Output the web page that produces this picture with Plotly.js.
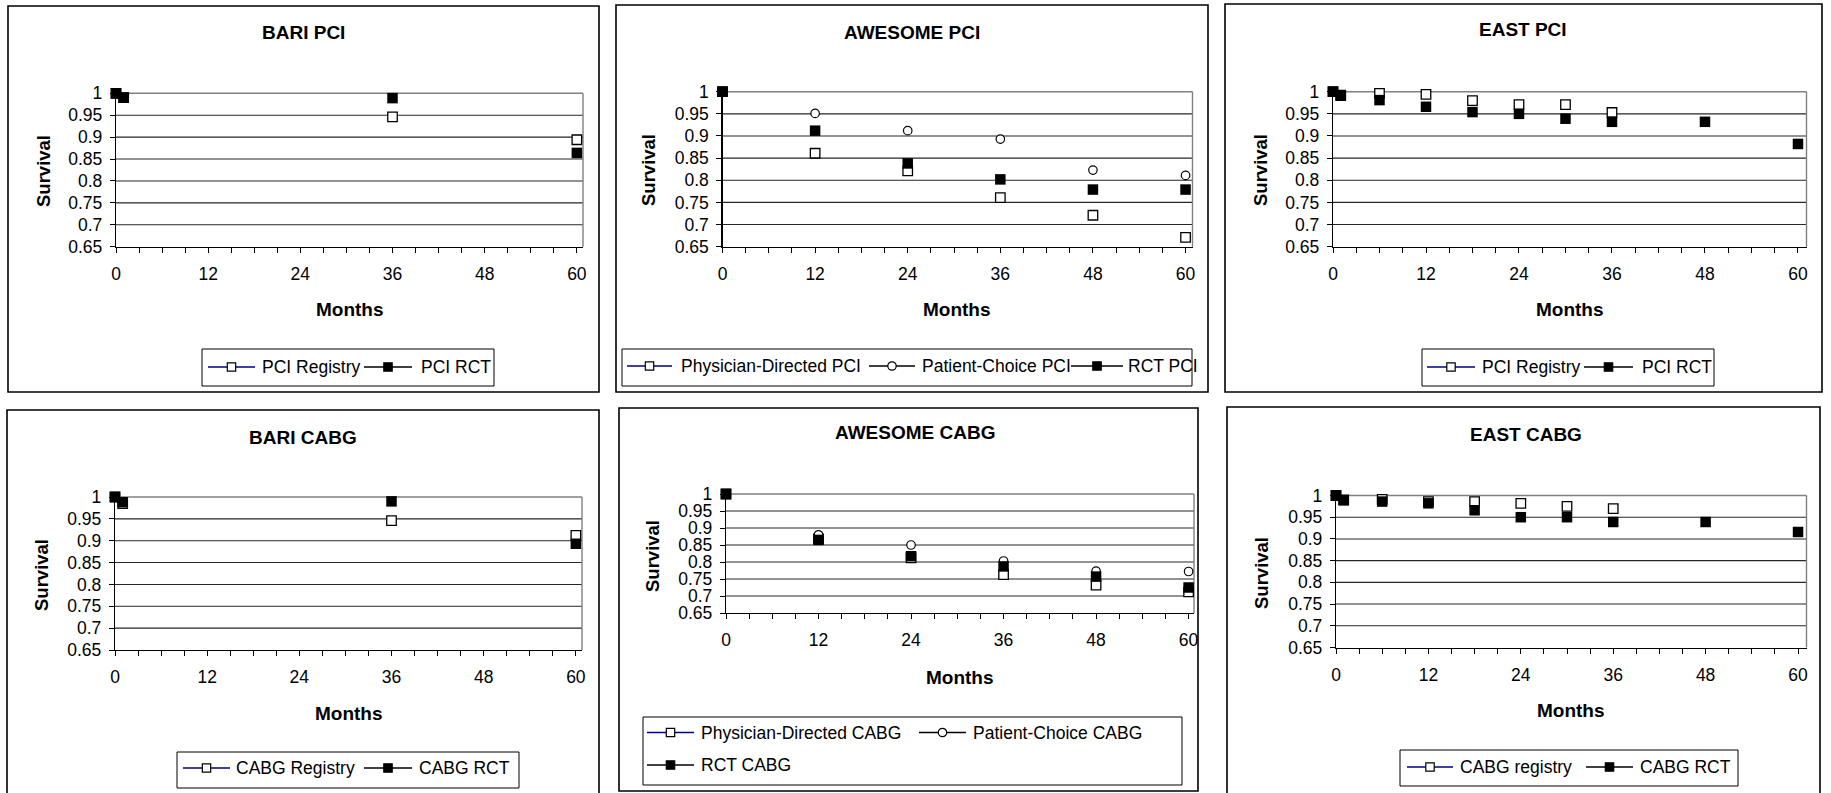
<!DOCTYPE html>
<html>
<head>
<meta charset="utf-8">
<script src="https://cdn.plot.ly/plotly-3.0.1.min.js"></script>
<style>
  html, body { margin: 0; padding: 0; background: #ffffff; }
  #chart { width: 1831px; height: 793px; }
</style>
</head>
<body>
<div id="chart"></div>
<script>
// ---- Survival (fraction alive) by months of follow-up ----
const bariMonths = [0, 1, 36, 60];
const bariPciRegistry = [1.0, 0.99, 0.946, 0.894];
const bariPciRct = [1.0, 0.99, 0.989, 0.864];
const bariCabgRegistry = [1.0, 0.985, 0.946, 0.912];
const bariCabgRct = [1.0, 0.988, 0.990, 0.893];

const awesomeMonths = [0, 12, 24, 36, 48, 60];
const awesomePciPhysician = [1.0, 0.861, 0.821, 0.761, 0.721, 0.671];
const awesomePciPatient = [1.0, 0.951, 0.912, 0.893, 0.823, 0.811];
const awesomePciRct = [1.0, 0.912, 0.838, 0.802, 0.779, 0.779];
const awesomeCabgPhysician = [1.0, 0.868, 0.812, 0.763, 0.732, 0.712];
const awesomeCabgPatient = [1.0, 0.880, 0.850, 0.803, 0.773, 0.772];
const awesomeCabgRct = [1.0, 0.865, 0.817, 0.787, 0.757, 0.725];

const eastRegistryMonths = [0, 1, 6, 12, 18, 24, 30, 36];
const eastRctMonths = [0, 1, 6, 12, 18, 24, 30, 36, 48, 60];
const eastPciRegistry = [1.0, 0.992, 0.996, 0.994, 0.980, 0.971, 0.971, 0.953];
const eastPciRct = [1.0, 0.991, 0.981, 0.966, 0.954, 0.950, 0.939, 0.932, 0.932, 0.882];
const eastCabgRegistry = [1.0, 0.990, 0.991, 0.986, 0.986, 0.982, 0.975, 0.970];
const eastCabgRct = [1.0, 0.989, 0.986, 0.982, 0.966, 0.950, 0.950, 0.939, 0.939, 0.916];

// ---- Axis ticks ----
const monthTicks = [0, 12, 24, 36, 48, 60];
const survivalTicks = [0.65, 0.7, 0.75, 0.8, 0.85, 0.9, 0.95, 1];
const survivalTickText = ['0.65', '0.7', '0.75', '0.8', '0.85', '0.9', '0.95', '1'];

// ---- Page geometry helpers (pixel -> paper fraction) ----
const W = 1831, H = 793;
const px = v => v / W;
const py = v => 1 - v / H;

const FONT = '"Liberation Sans", Arial, Helvetica, sans-serif';
const NAVY = '#000080';

const MARKERS = {
  openSquare:   { symbol: 'square', size: 9.5, color: '#ffffff', line: { color: '#000000', width: 1.3 } },
  filledSquare: { symbol: 'square', size: 10.5, color: '#000000', line: { color: '#000000', width: 0 } },
  openCircle:   { symbol: 'circle', size: 8.5, color: '#ffffff', line: { color: '#000000', width: 1.2 } }
};

// Each panel: frame, plot area, label anchors and its series
const panels = [
  {
    title: 'BARI PCI', box: [8, 6, 599, 392], plot: [116, 93.3, 583, 246.7], xmax: 60.8,
    titleAt: [303, 33], survAt: [44, 171], monthsY: 310,
    legendBox: [202, 349, 494, 386],
    series: [
      { name: 'PCI Registry', x: bariMonths, y: bariPciRegistry, style: 'openSquare', lineColor: NAVY, key: [208, 255, 261, 367] },
      { name: 'PCI RCT', x: bariMonths, y: bariPciRct, style: 'filledSquare', lineColor: '#000', key: [364, 412, 420, 367] }
    ]
  },
  {
    title: 'AWESOME PCI', box: [616, 5, 1208, 392], plot: [722.5, 91.7, 1192.5, 246.7], xmax: 60.9,
    titleAt: [912, 32], survAt: [648, 170], monthsY: 310,
    legendBox: [622, 349, 1192, 386],
    series: [
      { name: 'Physician-Directed PCI', x: awesomeMonths, y: awesomePciPhysician, style: 'openSquare', lineColor: NAVY, key: [627, 672, 680, 366] },
      { name: 'Patient-Choice PCI', x: awesomeMonths, y: awesomePciPatient, style: 'openCircle', lineColor: '#000', key: [869, 915, 921, 366] },
      { name: 'RCT PCI', x: awesomeMonths, y: awesomePciRct, style: 'filledSquare', lineColor: '#000', key: [1071, 1123, 1127, 366] }
    ]
  },
  {
    title: 'EAST PCI', box: [1225, 4, 1822, 392], plot: [1333, 91.7, 1806.5, 246.7], xmax: 61.1,
    titleAt: [1523, 30], survAt: [1260, 170], monthsY: 310,
    legendBox: [1422, 349, 1714, 386],
    series: [
      { name: 'PCI Registry', x: eastRegistryMonths, y: eastPciRegistry, style: 'openSquare', lineColor: NAVY, key: [1427, 1475, 1481, 367] },
      { name: 'PCI RCT', x: eastRctMonths, y: eastPciRct, style: 'filledSquare', lineColor: '#000', key: [1584, 1633, 1641, 367] }
    ]
  },
  {
    title: 'BARI CABG', box: [7, 410, 599, 800], plot: [115, 497, 582, 650], xmax: 60.8,
    titleAt: [303, 437], survAt: [41, 575], monthsY: 713,
    legendBox: [177, 752, 519, 788],
    series: [
      { name: 'CABG Registry', x: bariMonths, y: bariCabgRegistry, style: 'openSquare', lineColor: NAVY, key: [183, 230, 235, 768] },
      { name: 'CABG RCT', x: bariMonths, y: bariCabgRct, style: 'filledSquare', lineColor: '#000', key: [364, 412, 418, 768] }
    ]
  },
  {
    title: 'AWESOME CABG', box: [619, 408, 1198, 791], plot: [726, 494, 1194, 613], xmax: 60.7,
    titleAt: [915, 432], survAt: [652, 556], monthsY: 677,
    legendBox: [643, 717, 1182, 785],
    series: [
      { name: 'Physician-Directed CABG', x: awesomeMonths, y: awesomeCabgPhysician, style: 'openSquare', lineColor: NAVY, key: [647, 694, 700, 732.5] },
      { name: 'Patient-Choice CABG', x: awesomeMonths, y: awesomeCabgPatient, style: 'openCircle', lineColor: '#000', key: [919, 966, 972, 732.5] },
      { name: 'RCT CABG', x: awesomeMonths, y: awesomeCabgRct, style: 'filledSquare', lineColor: '#000', key: [647, 694, 700, 765] }
    ]
  },
  {
    title: 'EAST CABG', box: [1227, 407, 1820, 800], plot: [1336, 495.5, 1806.5, 647.5], xmax: 61.1,
    titleAt: [1526, 434], survAt: [1261, 573], monthsY: 710,
    legendBox: [1400, 750, 1738, 786],
    series: [
      { name: 'CABG registry', x: eastRegistryMonths, y: eastCabgRegistry, style: 'openSquare', lineColor: NAVY, key: [1407, 1453, 1459, 767] },
      { name: 'CABG RCT', x: eastRctMonths, y: eastCabgRct, style: 'filledSquare', lineColor: '#000', key: [1586, 1633, 1639, 767] }
    ]
  }
];

const traces = [];
const shapes = [];
const annotations = [];
const layout = {
  width: W, height: H,
  margin: { l: 0, r: 0, t: 0, b: 0 },
  paper_bgcolor: '#ffffff', plot_bgcolor: '#ffffff',
  showlegend: false,
  font: { family: FONT, color: '#000000' }
};

panels.forEach((p, i) => {
  const n = i + 1;
  const sfx = n === 1 ? '' : String(n);
  const xa = 'x' + sfx, ya = 'y' + sfx;
  const [l, t, r, b] = p.plot;

  layout['xaxis' + sfx] = {
    domain: [px(l), px(r)], anchor: ya,
    range: [0, p.xmax], tickmode: 'array', tickvals: monthTicks,
    ticks: 'outside', ticklen: 5, tickwidth: 1, tickcolor: '#000',
    minor: { tickmode: 'linear', tick0: 0, dtick: 3, ticks: 'outside', ticklen: 5, tickwidth: 1, tickcolor: '#000', showgrid: false },
    showline: true, linecolor: '#000', linewidth: 1.2,
    showgrid: false, zeroline: false, fixedrange: true,
    ticklabelstandoff: 6,
    tickfont: { family: FONT, size: 17.5, color: '#000' }
  };
  layout['yaxis' + sfx] = {
    domain: [py(b), py(t)], anchor: xa,
    range: [0.65, 1], tickmode: 'array', tickvals: survivalTicks, ticktext: survivalTickText,
    ticks: 'outside', ticklen: 5, tickwidth: 1, tickcolor: '#000',
    showline: true, linecolor: '#000', linewidth: 1.2,
    showgrid: false, zeroline: false, fixedrange: true,
    ticklabelstandoff: 4,
    tickfont: { family: FONT, size: 17.5, color: '#000' }
  };

  // horizontal gridlines at the inner survival ticks
  survivalTicks.slice(1, -1).forEach(v => {
    shapes.push({
      type: 'line', xref: xa + ' domain', yref: ya, layer: 'below',
      x0: 0, x1: 1, y0: v, y1: v,
      line: { color: '#262626', width: 1.1 }
    });
  });

  // grey top and right edges of the plot area
  shapes.push({ type: 'line', xref: xa + ' domain', yref: ya + ' domain', layer: 'below',
    x0: 0, y0: 1, x1: 1, y1: 1, line: { color: '#808080', width: 1.4 } });
  shapes.push({ type: 'line', xref: xa + ' domain', yref: ya + ' domain', layer: 'below',
    x0: 1, y0: 0, x1: 1, y1: 1, line: { color: '#808080', width: 1.4 } });

  // outer frame of the panel
  shapes.push({
    type: 'rect', xref: 'paper', yref: 'paper',
    x0: px(p.box[0]), x1: px(p.box[2]), y0: py(p.box[3]), y1: py(p.box[1]),
    line: { color: '#000', width: 1.6 }, fillcolor: 'rgba(0,0,0,0)'
  });

  // data markers
  p.series.forEach(s => {
    traces.push({
      type: 'scatter', mode: 'markers', name: s.name,
      x: s.x, y: s.y, xaxis: xa, yaxis: ya,
      cliponaxis: false, hoverinfo: 'skip',
      marker: MARKERS[s.style]
    });
  });

  // titles
  annotations.push({
    xref: 'paper', yref: 'paper', x: px(p.titleAt[0]), y: py(p.titleAt[1]),
    xanchor: 'center', yanchor: 'middle', showarrow: false, text: '<b>' + p.title + '</b>',
    font: { family: FONT, size: 19, color: '#000' }
  });
  annotations.push({
    xref: 'paper', yref: 'paper', x: px(p.survAt[0]), y: py(p.survAt[1]),
    xanchor: 'center', yanchor: 'middle', showarrow: false, text: '<b>Survival</b>', textangle: -90,
    font: { family: FONT, size: 18.5, color: '#000' }
  });
  annotations.push({
    xref: 'paper', yref: 'paper', x: px((l + r) / 2), y: py(p.monthsY),
    xanchor: 'center', yanchor: 'middle', showarrow: false, text: '<b>Months</b>',
    font: { family: FONT, size: 19, color: '#000' }
  });

  // key box with line + marker samples
  const lb = p.legendBox;
  shapes.push({
    type: 'rect', xref: 'paper', yref: 'paper',
    x0: px(lb[0]), x1: px(lb[2]), y0: py(lb[3]), y1: py(lb[1]),
    line: { color: '#000', width: 1 }, fillcolor: 'rgba(0,0,0,0)'
  });
  p.series.forEach(s => {
    const [k0, k1, tx, ky] = s.key;
    const cx = (k0 + k1) / 2;
    shapes.push({
      type: 'line', xref: 'paper', yref: 'paper',
      x0: px(k0), x1: px(k1), y0: py(ky), y1: py(ky),
      line: { color: s.lineColor, width: 1.6 }
    });
    const m = MARKERS[s.style];
    const h = 4.2;
    shapes.push({
      type: m.symbol === 'circle' ? 'circle' : 'rect', xref: 'paper', yref: 'paper',
      x0: px(cx - h), x1: px(cx + h), y0: py(ky + h), y1: py(ky - h),
      fillcolor: m.color, line: { color: '#000', width: 1.2 }
    });
    annotations.push({
      xref: 'paper', yref: 'paper', x: px(tx), y: py(ky),
      xanchor: 'left', yanchor: 'middle', showarrow: false, text: s.name,
      borderpad: 0,
      font: { family: FONT, size: 17.5, color: '#000' }
    });
  });
});

layout.shapes = shapes;
layout.annotations = annotations;

Plotly.newPlot('chart', traces, layout, { staticPlot: true, displayModeBar: false });
</script>
</body>
</html>
